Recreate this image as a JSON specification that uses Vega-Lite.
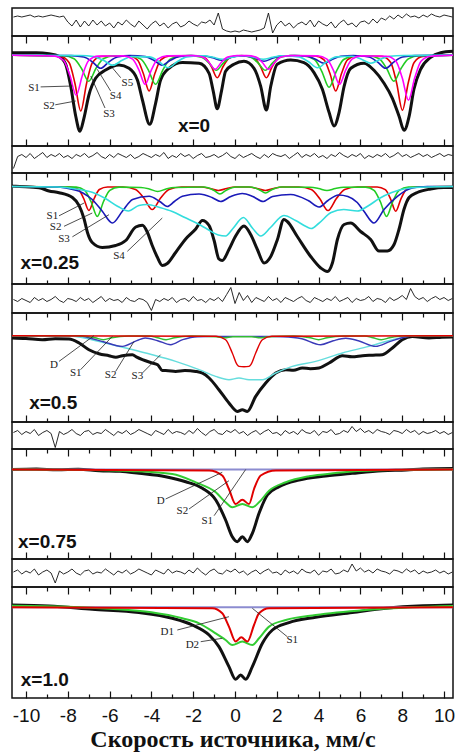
{
"$schema":"https://vega.github.io/schema/vega-lite/v6.json",
"padding":{"left":5,"top":7,"right":0,"bottom":0},
"background":"white",
"spacing":0,
"bounds":"flush",
"config":{"view":{"stroke":"#111","strokeWidth":1.5},"axis":{"domain":false,"grid":false,"tickColor":"#111","tickWidth":1.2}},
"resolve":{"scale":{"color":"independent"}},
"datasets":{
"res":[
{"v":-10.6,"a":5,"b":-9,"c":-1,"d":3,"e":1},{"v":-10.4,"a":6,"b":3,"c":-3,"d":5,"e":3},{"v":-10.2,"a":5,"b":5,"c":0,"d":1,"e":-1},{"v":-10.0,"a":6,"b":2,"c":-2,"d":4,"e":2},{"v":-9.8,"a":7,"b":6,"c":-4,"d":2,"e":0},{"v":-9.6,"a":5,"b":1,"c":1,"d":6,"e":4},{"v":-9.4,"a":6,"b":4,"c":-2,"d":0,"e":-2},{"v":-9.2,"a":5,"b":7,"c":0,"d":3,"e":1},{"v":-9.0,"a":6,"b":2,"c":-3,"d":5,"e":3},{"v":-8.8,"a":7,"b":5,"c":-1,"d":2,"e":0},
{"v":-8.6,"a":6,"b":3,"c":2,"d":-12,"e":-10},{"v":-8.4,"a":5,"b":6,"c":-2,"d":4,"e":2},{"v":-8.2,"a":6,"b":2,"c":-4,"d":1,"e":-1},{"v":-8.0,"a":0,"b":4,"c":0,"d":3,"e":1},{"v":-7.8,"a":-4,"b":1,"c":-1,"d":6,"e":4},{"v":-7.6,"a":2,"b":5,"c":-3,"d":2,"e":0},{"v":-7.4,"a":-5,"b":3,"c":1,"d":0,"e":-2},{"v":-7.2,"a":1,"b":6,"c":-2,"d":4,"e":2},{"v":-7.0,"a":-4,"b":2,"c":0,"d":5,"e":3},{"v":-6.8,"a":2,"b":4,"c":-4,"d":1,"e":-1},
{"v":-6.6,"a":-3,"b":7,"c":-1,"d":3,"e":1},{"v":-6.4,"a":1,"b":3,"c":2,"d":2,"e":0},{"v":-6.2,"a":-4,"b":1,"c":-3,"d":6,"e":4},{"v":-6.0,"a":-1,"b":5,"c":0,"d":3,"e":1},{"v":-5.8,"a":-6,"b":2,"c":-2,"d":0,"e":-2},{"v":-5.6,"a":0,"b":6,"c":-1,"d":4,"e":2},{"v":-5.4,"a":-3,"b":4,"c":-4,"d":2,"e":0},{"v":-5.2,"a":2,"b":2,"c":1,"d":5,"e":3},{"v":-5.0,"a":-2,"b":5,"c":-2,"d":1,"e":-1},{"v":-4.8,"a":-5,"b":1,"c":-3,"d":3,"e":1},
{"v":-4.6,"a":1,"b":3,"c":0,"d":6,"e":4},{"v":-4.4,"a":-3,"b":6,"c":-1,"d":4,"e":2},{"v":-4.2,"a":-7,"b":4,"c":-4,"d":2,"e":0},{"v":-4.0,"a":-2,"b":2,"c":-12,"d":0,"e":-2},{"v":-3.8,"a":1,"b":5,"c":-1,"d":5,"e":3},{"v":-3.6,"a":-4,"b":3,"c":-3,"d":3,"e":1},{"v":-3.4,"a":-1,"b":7,"c":0,"d":1,"e":-1},{"v":-3.2,"a":-6,"b":1,"c":-2,"d":6,"e":4},{"v":-3.0,"a":-2,"b":4,"c":1,"d":2,"e":0},{"v":-2.8,"a":0,"b":2,"c":-4,"d":4,"e":2},
{"v":-2.6,"a":-5,"b":6,"c":-1,"d":3,"e":1},{"v":-2.4,"a":-3,"b":3,"c":0,"d":1,"e":-1},{"v":-2.2,"a":1,"b":5,"c":-3,"d":5,"e":3},{"v":-2.0,"a":-2,"b":1,"c":2,"d":2,"e":0},{"v":-1.8,"a":-4,"b":4,"c":-2,"d":7,"e":5},{"v":-1.6,"a":0,"b":6,"c":-1,"d":3,"e":1},{"v":-1.4,"a":-1,"b":2,"c":-4,"d":0,"e":-2},{"v":-1.2,"a":2,"b":3,"c":0,"d":4,"e":2},{"v":-1.0,"a":-3,"b":5,"c":-2,"d":6,"e":4},{"v":-0.8,"a":9,"b":2,"c":1,"d":2,"e":0},
{"v":-0.6,"a":-7,"b":4,"c":-3,"d":1,"e":-1},{"v":-0.4,"a":-9,"b":7,"c":4,"d":5,"e":3},{"v":-0.2,"a":-10,"b":3,"c":11,"d":3,"e":1},{"v":0.0,"a":-9,"b":1,"c":-5,"d":6,"e":4},{"v":0.2,"a":-10,"b":5,"c":6,"d":2,"e":0},{"v":0.4,"a":-8,"b":2,"c":-2,"d":4,"e":2},{"v":0.6,"a":-9,"b":4,"c":3,"d":0,"e":-2},{"v":0.8,"a":-10,"b":6,"c":-4,"d":3,"e":1},{"v":1.0,"a":-9,"b":3,"c":1,"d":5,"e":3},{"v":1.2,"a":-8,"b":1,"c":-1,"d":1,"e":-1},
{"v":1.4,"a":-6,"b":5,"c":-3,"d":4,"e":2},{"v":1.6,"a":9,"b":2,"c":2,"d":6,"e":4},{"v":1.8,"a":-11,"b":6,"c":-2,"d":2,"e":0},{"v":2.0,"a":-3,"b":4,"c":0,"d":3,"e":1},{"v":2.2,"a":1,"b":3,"c":-4,"d":0,"e":-2},{"v":2.4,"a":-4,"b":5,"c":1,"d":5,"e":3},{"v":2.6,"a":-1,"b":1,"c":-1,"d":2,"e":0},{"v":2.8,"a":-6,"b":4,"c":-3,"d":4,"e":2},{"v":3.0,"a":-2,"b":7,"c":0,"d":1,"e":-1},{"v":3.2,"a":0,"b":2,"c":2,"d":6,"e":4},
{"v":3.4,"a":-3,"b":5,"c":-2,"d":3,"e":1},{"v":3.6,"a":2,"b":3,"c":-4,"d":2,"e":0},{"v":3.8,"a":-5,"b":6,"c":1,"d":5,"e":3},{"v":4.0,"a":1,"b":2,"c":-1,"d":0,"e":-2},{"v":4.2,"a":-2,"b":4,"c":-3,"d":4,"e":2},{"v":4.4,"a":-4,"b":1,"c":0,"d":3,"e":1},{"v":4.6,"a":0,"b":5,"c":-2,"d":6,"e":4},{"v":4.8,"a":-6,"b":3,"c":2,"d":1,"e":-1},{"v":5.0,"a":-1,"b":7,"c":-3,"d":2,"e":0},{"v":5.2,"a":2,"b":4,"c":-1,"d":5,"e":3},
{"v":5.4,"a":-3,"b":2,"c":1,"d":3,"e":1},{"v":5.6,"a":-1,"b":5,"c":-4,"d":9,"e":9},{"v":5.8,"a":-5,"b":3,"c":0,"d":4,"e":2},{"v":6.0,"a":0,"b":6,"c":-2,"d":7,"e":5},{"v":6.2,"a":1,"b":1,"c":-1,"d":3,"e":1},{"v":6.4,"a":-2,"b":4,"c":2,"d":5,"e":3},{"v":6.6,"a":3,"b":2,"c":-3,"d":2,"e":0},{"v":6.8,"a":-1,"b":5,"c":0,"d":6,"e":4},{"v":7.0,"a":4,"b":3,"c":-1,"d":4,"e":2},{"v":7.2,"a":2,"b":6,"c":-4,"d":3,"e":1},
{"v":7.4,"a":6,"b":2,"c":1,"d":1,"e":-1},{"v":7.6,"a":3,"b":4,"c":-2,"d":5,"e":3},{"v":7.8,"a":7,"b":7,"c":0,"d":4,"e":2},{"v":8.0,"a":4,"b":3,"c":3,"d":2,"e":0},{"v":8.2,"a":8,"b":5,"c":-1,"d":6,"e":4},{"v":8.4,"a":5,"b":2,"c":10,"d":3,"e":1},{"v":8.6,"a":6,"b":4,"c":2,"d":5,"e":3},{"v":8.8,"a":4,"b":6,"c":-1,"d":1,"e":-1},{"v":9.0,"a":7,"b":3,"c":1,"d":4,"e":2},{"v":9.2,"a":5,"b":5,"c":-3,"d":2,"e":0},
{"v":9.4,"a":8,"b":2,"c":0,"d":3,"e":1},{"v":9.6,"a":6,"b":4,"c":2,"d":5,"e":3},{"v":9.8,"a":5,"b":6,"c":-1,"d":2,"e":0},{"v":10.0,"a":7,"b":3,"c":1,"d":4,"e":2},{"v":10.2,"a":6,"b":5,"c":-2,"d":1,"e":-1},{"v":10.4,"a":5,"b":4,"c":0,"d":3,"e":1}
],
"p0":[
{"c":"E","v":-10.67,"y":2.5},{"c":"E","v":-9.5,"y":2.5},{"c":"E","v":-8.9,"y":1.5},{"c":"E","v":-8.42,"y":-1},{"c":"E","v":-8.1,"y":-9},{"c":"E","v":-7.86,"y":-31},{"c":"E","v":-7.62,"y":-61},{"c":"E","v":-7.42,"y":-76},{"c":"E","v":-7.23,"y":-63},{"c":"E","v":-6.99,"y":-39.7},{"c":"E","v":-6.67,"y":-23},{"c":"E","v":-6.19,"y":-14.7},{"c":"E","v":-5.55,"y":-9.7},{"c":"E","v":-5.07,"y":-13},{"c":"E","v":-4.67,"y":-24.7},{"c":"E","v":-4.43,"y":-44.7},{"c":"E","v":-4.08,"y":-69},{"c":"E","v":-3.8,"y":-48},{"c":"E","v":-3.56,"y":-24.7},{"c":"E","v":-3.16,"y":-13},{"c":"E","v":-2.52,"y":-7.3},{"c":"E","v":-1.72,"y":-8},{"c":"E","v":-1.24,"y":-18},{"c":"E","v":-1.05,"y":-35},{"c":"E","v":-0.85,"y":-53.4},{"c":"E","v":-0.64,"y":-35},{"c":"E","v":-0.45,"y":-16},{"c":"E","v":-0.05,"y":-9},{"c":"E","v":0.43,"y":-6},{"c":"E","v":0.91,"y":-13},{"c":"E","v":1.23,"y":-31},{"c":"E","v":1.5,"y":-54.7},{"c":"E","v":1.71,"y":-31},{"c":"E","v":2.02,"y":-9},{"c":"E","v":2.66,"y":-4.7},{"c":"E","v":3.3,"y":-7.3},{"c":"E","v":3.78,"y":-17.3},{"c":"E","v":4.18,"y":-34},{"c":"E","v":4.5,"y":-57},{"c":"E","v":4.74,"y":-70.7},{"c":"E","v":4.98,"y":-57},{"c":"E","v":5.22,"y":-31},{"c":"E","v":5.54,"y":-13},{"c":"E","v":6.17,"y":-8},{"c":"E","v":6.65,"y":-15},{"c":"E","v":7.13,"y":-28},{"c":"E","v":7.53,"y":-43},{"c":"E","v":7.85,"y":-61},{"c":"E","v":8.09,"y":-75},{"c":"E","v":8.33,"y":-61},{"c":"E","v":8.56,"y":-34},{"c":"E","v":8.88,"y":-14},{"c":"E","v":9.36,"y":-2},{"c":"E","v":9.84,"y":2.6},{"c":"E","v":10.43,"y":4},
{"c":"S2","v":-10.67,"y":0},{"c":"S2","v":-8.36,"y":-1.1},{"c":"S2","v":-7.94,"y":-7.2},{"c":"S2","v":-7.66,"y":-27.9},{"c":"S2","v":-7.38,"y":-55.7},{"c":"S2","v":-7.1,"y":-27.9},{"c":"S2","v":-6.82,"y":-7.2},{"c":"S2","v":-6.4,"y":-1.1},{"c":"S2","v":-5.09,"y":-0.7},{"c":"S2","v":-4.67,"y":-4.6},{"c":"S2","v":-4.39,"y":-17.9},{"c":"S2","v":-4.11,"y":-35.7},{"c":"S2","v":-3.83,"y":-17.9},{"c":"S2","v":-3.55,"y":-4.6},{"c":"S2","v":-3.13,"y":-0.7},{"c":"S2","v":-1.83,"y":-0.4},{"c":"S2","v":-1.41,"y":-2.9},{"c":"S2","v":-1.13,"y":-11.2},{"c":"S2","v":-0.85,"y":-22.4},{"c":"S2","v":-0.57,"y":-11.2},{"c":"S2","v":-0.29,"y":-2.9},{"c":"S2","v":0.13,"y":-0.4},{"c":"S2","v":0.52,"y":-0.4},{"c":"S2","v":0.94,"y":-2.9},{"c":"S2","v":1.22,"y":-11.2},{"c":"S2","v":1.5,"y":-22.4},{"c":"S2","v":1.78,"y":-11.2},{"c":"S2","v":2.06,"y":-2.9},{"c":"S2","v":2.48,"y":-0.4},{"c":"S2","v":3.84,"y":-0.7},{"c":"S2","v":4.26,"y":-4.6},{"c":"S2","v":4.54,"y":-17.9},{"c":"S2","v":4.82,"y":-35.7},{"c":"S2","v":5.1,"y":-17.9},{"c":"S2","v":5.38,"y":-4.6},{"c":"S2","v":5.8,"y":-0.7},{"c":"S2","v":7.03,"y":-1.1},{"c":"S2","v":7.45,"y":-7.2},{"c":"S2","v":7.73,"y":-27.5},{"c":"S2","v":8.01,"y":-55},{"c":"S2","v":8.29,"y":-27.5},{"c":"S2","v":8.57,"y":-7.2},{"c":"S2","v":8.99,"y":-1.1},{"c":"S2","v":10.43,"y":0},
{"c":"S3","v":-10.67,"y":0},{"c":"S3","v":-8.22,"y":-0.5},{"c":"S3","v":-7.7,"y":-3.4},{"c":"S3","v":-7.35,"y":-13},{"c":"S3","v":-7.0,"y":-26},{"c":"S3","v":-6.65,"y":-13},{"c":"S3","v":-6.3,"y":-3.4},{"c":"S3","v":-5.78,"y":-0.5},{"c":"S3","v":-5.02,"y":-0.6},{"c":"S3","v":-4.5,"y":-3.8},{"c":"S3","v":-4.15,"y":-14.5},{"c":"S3","v":-3.8,"y":-29},{"c":"S3","v":-3.45,"y":-14.5},{"c":"S3","v":-3.1,"y":-3.8},{"c":"S3","v":-2.58,"y":-0.6},{"c":"S3","v":-2.12,"y":-0.3},{"c":"S3","v":-1.6,"y":-2},{"c":"S3","v":-1.25,"y":-7.5},{"c":"S3","v":-0.9,"y":-15},{"c":"S3","v":-0.55,"y":-7.5},{"c":"S3","v":-0.2,"y":-2},{"c":"S3","v":0.32,"y":-0.3},{"c":"S3","v":0.75,"y":-2},{"c":"S3","v":1.1,"y":-7.5},{"c":"S3","v":1.45,"y":-15},{"c":"S3","v":1.8,"y":-7.5},{"c":"S3","v":2.15,"y":-2},{"c":"S3","v":2.67,"y":-0.3},{"c":"S3","v":3.28,"y":-0.6},{"c":"S3","v":3.8,"y":-4.2},{"c":"S3","v":4.15,"y":-16},{"c":"S3","v":4.5,"y":-32},{"c":"S3","v":4.85,"y":-16},{"c":"S3","v":5.2,"y":-4.2},{"c":"S3","v":5.72,"y":-0.6},{"c":"S3","v":6.38,"y":-0.5},{"c":"S3","v":6.9,"y":-3.4},{"c":"S3","v":7.25,"y":-13},{"c":"S3","v":7.6,"y":-26},{"c":"S3","v":7.95,"y":-13},{"c":"S3","v":8.3,"y":-3.4},{"c":"S3","v":8.82,"y":-0.5},{"c":"S3","v":10.43,"y":0},
{"c":"S4","v":-10.67,"y":0},{"c":"S4","v":-7.83,"y":-0.3},{"c":"S4","v":-7.23,"y":-1.7},{"c":"S4","v":-6.83,"y":-6.5},{"c":"S4","v":-6.43,"y":-13},{"c":"S4","v":-6.03,"y":-6.5},{"c":"S4","v":-5.63,"y":-1.7},{"c":"S4","v":-5.03,"y":-0.3},{"c":"S4","v":-4.29,"y":-1.3},{"c":"S4","v":-3.89,"y":-5},{"c":"S4","v":-3.49,"y":-10},{"c":"S4","v":-3.09,"y":-5},{"c":"S4","v":-2.69,"y":-1.3},{"c":"S4","v":-2.09,"y":-0.2},{"c":"S4","v":-1.45,"y":-0.7},{"c":"S4","v":-1.05,"y":-2.5},{"c":"S4","v":-0.65,"y":-5},{"c":"S4","v":-0.25,"y":-2.5},{"c":"S4","v":0.15,"y":-0.7},{"c":"S4","v":0.59,"y":-0.8},{"c":"S4","v":0.99,"y":-3},{"c":"S4","v":1.39,"y":-6},{"c":"S4","v":1.79,"y":-3},{"c":"S4","v":2.19,"y":-0.8},{"c":"S4","v":2.86,"y":-0.2},{"c":"S4","v":3.46,"y":-1},{"c":"S4","v":3.86,"y":-4},{"c":"S4","v":4.26,"y":-8},{"c":"S4","v":4.66,"y":-4},{"c":"S4","v":5.06,"y":-1},{"c":"S4","v":5.66,"y":-0.2},{"c":"S4","v":6.41,"y":-1.7},{"c":"S4","v":6.81,"y":-6.5},{"c":"S4","v":7.21,"y":-13},{"c":"S4","v":7.61,"y":-6.5},{"c":"S4","v":8.01,"y":-1.7},{"c":"S4","v":8.61,"y":-0.3},{"c":"S4","v":10.43,"y":0},
{"c":"S5","v":-10.67,"y":0},{"c":"S5","v":-7.42,"y":-0.2},{"c":"S5","v":-6.75,"y":-1.3},{"c":"S5","v":-6.3,"y":-5},{"c":"S5","v":-5.85,"y":-10},{"c":"S5","v":-5.4,"y":-5},{"c":"S5","v":-4.95,"y":-1.3},{"c":"S5","v":-4.1,"y":-1.6},{"c":"S5","v":-3.65,"y":-6.2},{"c":"S5","v":-3.2,"y":-12.5},{"c":"S5","v":-2.75,"y":-6.2},{"c":"S5","v":-2.3,"y":-1.6},{"c":"S5","v":-1.5,"y":-0.5},{"c":"S5","v":-1.05,"y":-2},{"c":"S5","v":-0.6,"y":-4},{"c":"S5","v":-0.15,"y":-2},{"c":"S5","v":0.45,"y":-0.5},{"c":"S5","v":0.9,"y":-2},{"c":"S5","v":1.35,"y":-4},{"c":"S5","v":1.8,"y":-2},{"c":"S5","v":2.25,"y":-0.5},{"c":"S5","v":3.05,"y":-1.6},{"c":"S5","v":3.5,"y":-6.2},{"c":"S5","v":3.95,"y":-12.5},{"c":"S5","v":4.4,"y":-6.2},{"c":"S5","v":4.85,"y":-1.6},{"c":"S5","v":5.6,"y":-1},{"c":"S5","v":6.05,"y":-4},{"c":"S5","v":6.5,"y":-8},{"c":"S5","v":6.95,"y":-4},{"c":"S5","v":7.4,"y":-1},{"c":"S5","v":8.07,"y":-0.2},{"c":"S5","v":10.43,"y":0},
{"c":"S1","v":-10.67,"y":0},{"c":"S1","v":-8.65,"y":-0.8},{"c":"S1","v":-8.2,"y":-5.2},{"c":"S1","v":-7.9,"y":-20},{"c":"S1","v":-7.6,"y":-40},{"c":"S1","v":-7.3,"y":-20},{"c":"S1","v":-7.0,"y":-5.2},{"c":"S1","v":-6.55,"y":-0.8},{"c":"S1","v":-5.35,"y":-0.6},{"c":"S1","v":-4.9,"y":-3.8},{"c":"S1","v":-4.6,"y":-14.5},{"c":"S1","v":-4.3,"y":-29},{"c":"S1","v":-4.0,"y":-14.5},{"c":"S1","v":-3.7,"y":-3.8},{"c":"S1","v":-3.25,"y":-0.6},{"c":"S1","v":-2.0,"y":-0.3},{"c":"S1","v":-1.55,"y":-1.8},{"c":"S1","v":-1.25,"y":-7},{"c":"S1","v":-0.95,"y":-14},{"c":"S1","v":-0.65,"y":-7},{"c":"S1","v":-0.35,"y":-1.8},{"c":"S1","v":0.1,"y":-0.3},{"c":"S1","v":0.55,"y":-0.3},{"c":"S1","v":1.0,"y":-1.8},{"c":"S1","v":1.3,"y":-7},{"c":"S1","v":1.6,"y":-14},{"c":"S1","v":1.9,"y":-7},{"c":"S1","v":2.2,"y":-1.8},{"c":"S1","v":2.65,"y":-0.3},{"c":"S1","v":3.95,"y":-0.6},{"c":"S1","v":4.4,"y":-3.8},{"c":"S1","v":4.7,"y":-14.5},{"c":"S1","v":5.0,"y":-29},{"c":"S1","v":5.3,"y":-14.5},{"c":"S1","v":5.6,"y":-3.8},{"c":"S1","v":6.05,"y":-0.6},{"c":"S1","v":7.25,"y":-0.9},{"c":"S1","v":7.7,"y":-5.9},{"c":"S1","v":8.0,"y":-22.5},{"c":"S1","v":8.3,"y":-45},{"c":"S1","v":8.6,"y":-22.5},{"c":"S1","v":8.9,"y":-5.9},{"c":"S1","v":9.35,"y":-0.9},{"c":"S1","v":10.43,"y":0}
],
"l0":[
{"t":"S1","v":-9.62,"y":-32.4,"x1":-9.3,"y1":-31.6,"x2":-7.78,"y2":-30.7},
{"t":"S2","v":-8.9,"y":-50.7,"x1":-8.6,"y1":-49.5,"x2":-7.62,"y2":-45.7},
{"t":"S3","v":-6.03,"y":-59,"x1":-6.22,"y1":-52.7,"x2":-6.9,"y2":-20.7},
{"t":"S4","v":-5.71,"y":-40.7,"x1":-5.95,"y1":-35.7,"x2":-6.59,"y2":-14},
{"t":"S5","v":-5.15,"y":-27.4,"x1":-5.47,"y1":-22.4,"x2":-5.87,"y2":-12.4}
],
"p1":[
{"c":"E","v":-10.67,"y":0.5},{"c":"E","v":-10.5,"y":0.2},{"c":"E","v":-9.38,"y":-1.2},{"c":"E","v":-8.9,"y":-4.5},{"c":"E","v":-8.42,"y":-6.2},{"c":"E","v":-7.78,"y":-11},{"c":"E","v":-7.46,"y":-19.2},{"c":"E","v":-7.22,"y":-32.5},{"c":"E","v":-7.06,"y":-46},{"c":"E","v":-6.83,"y":-56},{"c":"E","v":-6.35,"y":-61},{"c":"E","v":-5.71,"y":-59},{"c":"E","v":-5.23,"y":-54},{"c":"E","v":-4.75,"y":-40.5},{"c":"E","v":-4.43,"y":-38.8},{"c":"E","v":-4.2,"y":-45.5},{"c":"E","v":-3.96,"y":-59},{"c":"E","v":-3.72,"y":-70.5},{"c":"E","v":-3.48,"y":-79},{"c":"E","v":-3.24,"y":-77},{"c":"E","v":-2.84,"y":-66},{"c":"E","v":-2.36,"y":-52.5},{"c":"E","v":-1.88,"y":-42.5},{"c":"E","v":-1.56,"y":-34},{"c":"E","v":-1.24,"y":-39},{"c":"E","v":-1.0,"y":-54},{"c":"E","v":-0.77,"y":-72.5},{"c":"E","v":-0.61,"y":-74},{"c":"E","v":-0.29,"y":-63},{"c":"E","v":0.03,"y":-49.5},{"c":"E","v":0.43,"y":-39.5},{"c":"E","v":0.75,"y":-48},{"c":"E","v":1.07,"y":-63},{"c":"E","v":1.39,"y":-76.5},{"c":"E","v":1.71,"y":-70},{"c":"E","v":2.03,"y":-53},{"c":"E","v":2.34,"y":-33},{"c":"E","v":2.5,"y":-35},{"c":"E","v":2.98,"y":-50},{"c":"E","v":3.62,"y":-70},{"c":"E","v":4.1,"y":-81.5},{"c":"E","v":4.42,"y":-85},{"c":"E","v":4.66,"y":-76.5},{"c":"E","v":4.9,"y":-53},{"c":"E","v":5.22,"y":-38},{"c":"E","v":5.53,"y":-36.5},{"c":"E","v":6.01,"y":-45},{"c":"E","v":6.49,"y":-53},{"c":"E","v":6.89,"y":-64.5},{"c":"E","v":7.29,"y":-64.5},{"c":"E","v":7.61,"y":-58},{"c":"E","v":7.85,"y":-42.5},{"c":"E","v":8.09,"y":-22.5},{"c":"E","v":8.33,"y":-11},{"c":"E","v":8.72,"y":-6},{"c":"E","v":9.36,"y":-2.5},{"c":"E","v":10.0,"y":-1},{"c":"E","v":10.43,"y":-1},
{"c":"S1","v":-10.67,"y":0},{"c":"S1","v":-7.9,"y":-0.5},{"c":"S1","v":-7.49,"y":-3},{"c":"S1","v":-7.24,"y":-12},{"c":"S1","v":-6.99,"y":-24},{"c":"S1","v":-6.74,"y":-12},{"c":"S1","v":-6.49,"y":-3},{"c":"S1","v":-6.1,"y":-0.5},{"c":"S1","v":-5.36,"y":-0.5},{"c":"S1","v":-4.76,"y":-3},{"c":"S1","v":-4.36,"y":-11.5},{"c":"S1","v":-3.96,"y":-23},{"c":"S1","v":-3.56,"y":-11.5},{"c":"S1","v":-3.16,"y":-3},{"c":"S1","v":-2.56,"y":-0.5},{"c":"S1","v":-1.6,"y":-0.5},{"c":"S1","v":-1.2,"y":-2},{"c":"S1","v":-0.8,"y":-4},{"c":"S1","v":-0.4,"y":-2},{"c":"S1","v":0,"y":-0.5},{"c":"S1","v":0.65,"y":-0.5},{"c":"S1","v":1.05,"y":-2},{"c":"S1","v":1.45,"y":-4},{"c":"S1","v":1.85,"y":-2},{"c":"S1","v":2.25,"y":-0.5},{"c":"S1","v":3.05,"y":-0.5},{"c":"S1","v":3.65,"y":-3},{"c":"S1","v":4.05,"y":-12},{"c":"S1","v":4.45,"y":-24},{"c":"S1","v":4.85,"y":-12},{"c":"S1","v":5.25,"y":-3},{"c":"S1","v":5.85,"y":-0.5},{"c":"S1","v":6.8,"y":-0.5},{"c":"S1","v":7.19,"y":-3.2},{"c":"S1","v":7.44,"y":-12.3},{"c":"S1","v":7.69,"y":-24.7},{"c":"S1","v":7.94,"y":-12.3},{"c":"S1","v":8.19,"y":-3.2},{"c":"S1","v":8.6,"y":-0.5},{"c":"S1","v":10.43,"y":0},
{"c":"S2","v":-10.67,"y":0},{"c":"S2","v":-7.6,"y":-0.6},{"c":"S2","v":-7.19,"y":-3.9},{"c":"S2","v":-6.89,"y":-15},{"c":"S2","v":-6.59,"y":-30},{"c":"S2","v":-6.29,"y":-15},{"c":"S2","v":-5.99,"y":-3.9},{"c":"S2","v":-5.55,"y":-0.6},{"c":"S2","v":-4.5,"y":-1},{"c":"S2","v":-4.1,"y":-2.5},{"c":"S2","v":-3.7,"y":-5},{"c":"S2","v":-3.3,"y":-2.5},{"c":"S2","v":-2.9,"y":-1},{"c":"S2","v":-1.5,"y":-0.5},{"c":"S2","v":-1.02,"y":-3.7},{"c":"S2","v":-0.72,"y":-7.5},{"c":"S2","v":-0.42,"y":-3.7},{"c":"S2","v":0.05,"y":-0.5},{"c":"S2","v":0.7,"y":-0.5},{"c":"S2","v":1.16,"y":-3.2},{"c":"S2","v":1.46,"y":-6.5},{"c":"S2","v":1.76,"y":-3.2},{"c":"S2","v":2.2,"y":-0.5},{"c":"S2","v":3.6,"y":-0.8},{"c":"S2","v":4.0,"y":-2},{"c":"S2","v":4.4,"y":-4},{"c":"S2","v":4.8,"y":-2},{"c":"S2","v":5.2,"y":-0.8},{"c":"S2","v":6.25,"y":-0.6},{"c":"S2","v":6.65,"y":-3.9},{"c":"S2","v":6.95,"y":-15},{"c":"S2","v":7.25,"y":-30},{"c":"S2","v":7.55,"y":-15},{"c":"S2","v":7.85,"y":-3.9},{"c":"S2","v":8.3,"y":-0.6},{"c":"S2","v":10.43,"y":0},
{"c":"S3","v":-10.67,"y":0},{"c":"S3","v":-8.6,"y":-0.5},{"c":"S3","v":-8.1,"y":-1.5},{"c":"S3","v":-7.3,"y":-6.2},{"c":"S3","v":-6.83,"y":-13},{"c":"S3","v":-6.35,"y":-24.8},{"c":"S3","v":-5.87,"y":-36.5},{"c":"S3","v":-5.39,"y":-24.8},{"c":"S3","v":-4.9,"y":-13},{"c":"S3","v":-4.11,"y":-9.8},{"c":"S3","v":-3.6,"y":-15},{"c":"S3","v":-3.24,"y":-20},{"c":"S3","v":-2.9,"y":-15},{"c":"S3","v":-2.52,"y":-9.8},{"c":"S3","v":-1.72,"y":-7.5},{"c":"S3","v":-1.1,"y":-11},{"c":"S3","v":-0.69,"y":-15},{"c":"S3","v":-0.2,"y":-10},{"c":"S3","v":0.35,"y":-7},{"c":"S3","v":0.85,"y":-10},{"c":"S3","v":1.35,"y":-15},{"c":"S3","v":1.8,"y":-10},{"c":"S3","v":2.66,"y":-8},{"c":"S3","v":3.5,"y":-14},{"c":"S3","v":4.02,"y":-20.5},{"c":"S3","v":4.45,"y":-14},{"c":"S3","v":4.95,"y":-8.5},{"c":"S3","v":5.4,"y":-10},{"c":"S3","v":5.85,"y":-16},{"c":"S3","v":6.17,"y":-24.8},{"c":"S3","v":6.65,"y":-36.5},{"c":"S3","v":7.13,"y":-23},{"c":"S3","v":7.77,"y":-9.8},{"c":"S3","v":8.48,"y":-1.5},{"c":"S3","v":9.2,"y":0},{"c":"S3","v":10.43,"y":0},
{"c":"S4","v":-10.67,"y":0},{"c":"S4","v":-8.5,"y":-0.5},{"c":"S4","v":-7.6,"y":-2.5},{"c":"S4","v":-6.8,"y":-6},{"c":"S4","v":-6.2,"y":-12},{"c":"S4","v":-5.6,"y":-20},{"c":"S4","v":-5.1,"y":-24.5},{"c":"S4","v":-4.6,"y":-19},{"c":"S4","v":-4.2,"y":-18},{"c":"S4","v":-3.6,"y":-21},{"c":"S4","v":-3.0,"y":-25},{"c":"S4","v":-2.4,"y":-31},{"c":"S4","v":-1.8,"y":-37},{"c":"S4","v":-1.3,"y":-43},{"c":"S4","v":-0.8,"y":-48.5},{"c":"S4","v":-0.45,"y":-49.5},{"c":"S4","v":-0.1,"y":-42},{"c":"S4","v":0.4,"y":-31},{"c":"S4","v":0.85,"y":-42},{"c":"S4","v":1.23,"y":-49.5},{"c":"S4","v":1.7,"y":-41},{"c":"S4","v":2.34,"y":-29},{"c":"S4","v":2.9,"y":-34},{"c":"S4","v":3.4,"y":-40},{"c":"S4","v":3.65,"y":-42},{"c":"S4","v":4.0,"y":-37},{"c":"S4","v":4.6,"y":-26},{"c":"S4","v":5.2,"y":-23},{"c":"S4","v":5.85,"y":-24.5},{"c":"S4","v":6.4,"y":-19},{"c":"S4","v":6.9,"y":-12},{"c":"S4","v":7.5,"y":-6},{"c":"S4","v":8.2,"y":-2},{"c":"S4","v":9.2,"y":-0.5},{"c":"S4","v":10.43,"y":0}
],
"l1":[
{"t":"S1","v":-8.74,"y":-29.3,"x1":-8.42,"y1":-29.3,"x2":-7.22,"y2":-16.5},
{"t":"S2","v":-8.58,"y":-40.8,"x1":-8.18,"y1":-39.8,"x2":-6.83,"y2":-26.5},
{"t":"S3","v":-8.18,"y":-52,"x1":-7.78,"y1":-50.3,"x2":-6.03,"y2":-28.2},
{"t":"S4","v":-5.55,"y":-69.8,"x1":-5.15,"y1":-64.8,"x2":-3.48,"y2":-31.5}
],
"p2":[
{"c":"E","v":-10.67,"y":-2.3},{"c":"E","v":-10,"y":-2.8},{"c":"E","v":-9.22,"y":-4},{"c":"E","v":-8.6,"y":-3},{"c":"E","v":-7.94,"y":-3.3},{"c":"E","v":-7.46,"y":-7.3},{"c":"E","v":-6.99,"y":-14},{"c":"E","v":-6.51,"y":-18},{"c":"E","v":-6.03,"y":-20},{"c":"E","v":-5.7,"y":-21.5},{"c":"E","v":-5.39,"y":-20},{"c":"E","v":-4.91,"y":-19},{"c":"E","v":-4.7,"y":-21.5},{"c":"E","v":-4.43,"y":-24},{"c":"E","v":-3.96,"y":-27.3},{"c":"E","v":-3.7,"y":-29},{"c":"E","v":-3.48,"y":-34.7},{"c":"E","v":-3.2,"y":-35},{"c":"E","v":-2.84,"y":-35.7},{"c":"E","v":-2.4,"y":-34.8},{"c":"E","v":-1.88,"y":-35.7},{"c":"E","v":-1.55,"y":-37.5},{"c":"E","v":-1.24,"y":-42.3},{"c":"E","v":-0.77,"y":-54},{"c":"E","v":-0.29,"y":-67.3},{"c":"E","v":0.11,"y":-75.7},{"c":"E","v":0.35,"y":-74},{"c":"E","v":0.59,"y":-75.7},{"c":"E","v":0.99,"y":-60.7},{"c":"E","v":1.47,"y":-47.3},{"c":"E","v":1.95,"y":-37.3},{"c":"E","v":2.43,"y":-34},{"c":"E","v":2.8,"y":-34.5},{"c":"E","v":3.22,"y":-32.3},{"c":"E","v":3.6,"y":-33},{"c":"E","v":4.02,"y":-32.3},{"c":"E","v":4.5,"y":-27.3},{"c":"E","v":5.14,"y":-20},{"c":"E","v":5.6,"y":-21},{"c":"E","v":6.1,"y":-20},{"c":"E","v":6.6,"y":-19.5},{"c":"E","v":7.05,"y":-19},{"c":"E","v":7.53,"y":-12.3},{"c":"E","v":8.0,"y":-4},{"c":"E","v":8.48,"y":-0.7},{"c":"E","v":9.28,"y":-2.3},{"c":"E","v":9.9,"y":-1.5},{"c":"E","v":10.43,"y":-1.3},
{"c":"S3","v":-10.67,"y":0},{"c":"S3","v":-8.0,"y":0},{"c":"S3","v":-7.46,"y":-1.3},{"c":"S3","v":-6.35,"y":-6.7},{"c":"S3","v":-5.23,"y":-12.3},{"c":"S3","v":-3.96,"y":-19},{"c":"S3","v":-2.84,"y":-25.7},{"c":"S3","v":-1.72,"y":-34},{"c":"S3","v":-0.93,"y":-40.7},{"c":"S3","v":-0.29,"y":-44},{"c":"S3","v":0.19,"y":-42.3},{"c":"S3","v":0.67,"y":-44},{"c":"S3","v":1.31,"y":-44},{"c":"S3","v":1.95,"y":-37.3},{"c":"S3","v":2.74,"y":-30.7},{"c":"S3","v":3.86,"y":-25.7},{"c":"S3","v":5.14,"y":-17.3},{"c":"S3","v":6.41,"y":-10.7},{"c":"S3","v":7.53,"y":-4},{"c":"S3","v":8.33,"y":-0.7},{"c":"S3","v":9,"y":0},{"c":"S3","v":10.43,"y":0},
{"c":"S2","v":-10.67,"y":0},{"c":"S2","v":-7.5,"y":0},{"c":"S2","v":-6.99,"y":-2},{"c":"S2","v":-6.3,"y":-6},{"c":"S2","v":-5.39,"y":-10.7},{"c":"S2","v":-4.7,"y":-5},{"c":"S2","v":-4.3,"y":-2.3},{"c":"S2","v":-3.7,"y":-5},{"c":"S2","v":-3.08,"y":-9},{"c":"S2","v":-2.5,"y":-4},{"c":"S2","v":-1.8,"y":-1},{"c":"S2","v":-1.0,"y":-0.7},{"c":"S2","v":1.5,"y":-0.7},{"c":"S2","v":2.3,"y":-1},{"c":"S2","v":3.2,"y":-3},{"c":"S2","v":4.1,"y":-9},{"c":"S2","v":4.7,"y":-5},{"c":"S2","v":5.3,"y":-2.5},{"c":"S2","v":5.9,"y":-5},{"c":"S2","v":6.73,"y":-10.7},{"c":"S2","v":7.4,"y":-6},{"c":"S2","v":8.0,"y":-2},{"c":"S2","v":8.6,"y":0},{"c":"S2","v":10.43,"y":0},
{"c":"S1","v":-10.67,"y":0},{"c":"S1","v":-7.5,"y":0},{"c":"S1","v":-6.7,"y":-2},{"c":"S1","v":-6.3,"y":-4},{"c":"S1","v":-5.9,"y":-2},{"c":"S1","v":-5.1,"y":-0.3},{"c":"S1","v":-4.1,"y":-0.3},{"c":"S1","v":-3.7,"y":-2},{"c":"S1","v":-3.3,"y":-4},{"c":"S1","v":-2.9,"y":-2},{"c":"S1","v":-2.1,"y":-0.3},{"c":"S1","v":-0.9,"y":-1},{"c":"S1","v":-0.5,"y":-2},{"c":"S1","v":-0.1,"y":-1},{"c":"S1","v":0.8,"y":-1},{"c":"S1","v":1.2,"y":-2},{"c":"S1","v":1.6,"y":-1},{"c":"S1","v":2.8,"y":-0.3},{"c":"S1","v":3.6,"y":-2},{"c":"S1","v":4.0,"y":-4},{"c":"S1","v":4.4,"y":-2},{"c":"S1","v":5.2,"y":-0.3},{"c":"S1","v":6.2,"y":-0.3},{"c":"S1","v":6.6,"y":-2},{"c":"S1","v":7.0,"y":-4},{"c":"S1","v":7.4,"y":-2},{"c":"S1","v":8.2,"y":0},{"c":"S1","v":10.43,"y":0},
{"c":"D","v":-10.67,"y":0},{"c":"D","v":-0.9,"y":-0.5},{"c":"D","v":-0.45,"y":-4},{"c":"D","v":-0.13,"y":-17.3},{"c":"D","v":0.1,"y":-29},{"c":"D","v":0.19,"y":-30.7},{"c":"D","v":0.43,"y":-31},{"c":"D","v":0.67,"y":-30.7},{"c":"D","v":0.76,"y":-29},{"c":"D","v":0.99,"y":-17.3},{"c":"D","v":1.31,"y":-4},{"c":"D","v":1.76,"y":-0.5},{"c":"D","v":10.43,"y":0}
],
"l2":[
{"t":"D","v":-8.66,"y":-29,"x1":-8.42,"y1":-25.7,"x2":-6.75,"y2":0},
{"t":"S1","v":-7.62,"y":-37.3,"x1":-7.39,"y1":-34,"x2":-5.87,"y2":-0.7},
{"t":"S2","v":-5.95,"y":-39,"x1":-5.71,"y1":-35.7,"x2":-4.83,"y2":-5.7},
{"t":"S3","v":-4.67,"y":-40.7,"x1":-4.43,"y1":-37.3,"x2":-3.56,"y2":-19}
],
"p3":[
{"c":"E","v":-10.67,"y":0},{"c":"E","v":-9.5,"y":0.5},{"c":"E","v":-8.5,"y":-0.3},{"c":"E","v":-7.5,"y":0.3},{"c":"E","v":-6.5,"y":-1.2},{"c":"E","v":-5.5,"y":-1.8},{"c":"E","v":-4.59,"y":-3.8},{"c":"E","v":-3.32,"y":-7.2},{"c":"E","v":-2.36,"y":-12.2},{"c":"E","v":-1.56,"y":-18.8},{"c":"E","v":-0.92,"y":-30.5},{"c":"E","v":-0.45,"y":-50.5},{"c":"E","v":-0.13,"y":-67.2},{"c":"E","v":0.11,"y":-72.2},{"c":"E","v":0.35,"y":-67.2},{"c":"E","v":0.59,"y":-72.2},{"c":"E","v":0.83,"y":-63.8},{"c":"E","v":1.15,"y":-43.8},{"c":"E","v":1.55,"y":-25.5},{"c":"E","v":2.11,"y":-17.2},{"c":"E","v":3.06,"y":-10.5},{"c":"E","v":4.34,"y":-6.5},{"c":"E","v":5.61,"y":-3.8},{"c":"E","v":7.05,"y":-1.2},{"c":"E","v":8.2,"y":-0.5},{"c":"E","v":9,"y":0.5},{"c":"E","v":10.43,"y":1},
{"c":"S1","v":-10.67,"y":0},{"c":"S1","v":10.43,"y":0},
{"c":"S2","v":-10.67,"y":0},{"c":"S2","v":-7,"y":-0.5},{"c":"S2","v":-5,"y":-1.5},{"c":"S2","v":-3.0,"y":-4.5},{"c":"S2","v":-1.88,"y":-12.8},{"c":"S2","v":-0.92,"y":-22.8},{"c":"S2","v":-0.45,"y":-32.8},{"c":"S2","v":-0.13,"y":-37.8},{"c":"S2","v":0.35,"y":-34.5},{"c":"S2","v":0.83,"y":-37.8},{"c":"S2","v":1.15,"y":-32.8},{"c":"S2","v":1.63,"y":-21.2},{"c":"S2","v":2.43,"y":-12.8},{"c":"S2","v":3.54,"y":-6.8},{"c":"S2","v":4.82,"y":-3.5},{"c":"S2","v":5.45,"y":-2.2},{"c":"S2","v":7.5,"y":-0.5},{"c":"S2","v":10.43,"y":0},
{"c":"D","v":-10.67,"y":0},{"c":"D","v":-1.24,"y":-1},{"c":"D","v":-0.61,"y":-6},{"c":"D","v":-0.29,"y":-19.5},{"c":"D","v":0.03,"y":-34.5},{"c":"D","v":0.35,"y":-30.2},{"c":"D","v":0.67,"y":-34.5},{"c":"D","v":0.91,"y":-19.5},{"c":"D","v":1.23,"y":-6},{"c":"D","v":1.95,"y":-1},{"c":"D","v":10.43,"y":0}
],
"l3":[
{"t":"D","v":-3.56,"y":-31.2,"x1":-3.32,"y1":-29.5,"x2":-0.61,"y2":-2.8},
{"t":"S2","v":-2.52,"y":-41.2,"x1":-2.2,"y1":-39.5,"x2":-0.29,"y2":-11.2},
{"t":"S1","v":-1.33,"y":-51.2,"x1":-1.0,"y1":-46.2,"x2":0.51,"y2":0}
],
"p4":[
{"c":"E","v":-10.67,"y":2.3},{"c":"E","v":-8.9,"y":1.3},{"c":"E","v":-6.83,"y":-2},{"c":"E","v":-4.59,"y":-5.3},{"c":"E","v":-3.0,"y":-11},{"c":"E","v":-2.04,"y":-17.7},{"c":"E","v":-1.24,"y":-27.7},{"c":"E","v":-0.77,"y":-39.3},{"c":"E","v":-0.29,"y":-59.3},{"c":"E","v":0.03,"y":-72},{"c":"E","v":0.27,"y":-67.7},{"c":"E","v":0.51,"y":-72},{"c":"E","v":0.83,"y":-59.3},{"c":"E","v":1.31,"y":-36},{"c":"E","v":1.79,"y":-22.7},{"c":"E","v":2.58,"y":-15.3},{"c":"E","v":3.86,"y":-10},{"c":"E","v":5.61,"y":-5.3},{"c":"E","v":7.21,"y":-1},{"c":"E","v":9,"y":1.5},{"c":"E","v":10.43,"y":2.3},
{"c":"S1","v":-10.67,"y":0},{"c":"S1","v":10.43,"y":0},
{"c":"D2","v":-10.67,"y":1.5},{"c":"D2","v":-8,"y":0.5},{"c":"D2","v":-6,"y":-1.5},{"c":"D2","v":-4,"y":-5},{"c":"D2","v":-2.52,"y":-11},{"c":"D2","v":-1.72,"y":-16},{"c":"D2","v":-0.93,"y":-26},{"c":"D2","v":-0.45,"y":-32.7},{"c":"D2","v":-0.13,"y":-37.7},{"c":"D2","v":0.35,"y":-34.3},{"c":"D2","v":0.83,"y":-37.7},{"c":"D2","v":1.15,"y":-31},{"c":"D2","v":1.63,"y":-19.3},{"c":"D2","v":2.43,"y":-12.7},{"c":"D2","v":3.86,"y":-7.7},{"c":"D2","v":6.25,"y":-2.7},{"c":"D2","v":8.5,"y":0},{"c":"D2","v":10.43,"y":1.3},
{"c":"D1","v":-10.67,"y":0},{"c":"D1","v":-1.09,"y":-1},{"c":"D1","v":-0.61,"y":-6},{"c":"D1","v":-0.29,"y":-19.3},{"c":"D1","v":0.03,"y":-34.3},{"c":"D1","v":0.3,"y":-30},{"c":"D1","v":0.59,"y":-34.3},{"c":"D1","v":0.91,"y":-17.7},{"c":"D1","v":1.15,"y":-6},{"c":"D1","v":1.63,"y":-1},{"c":"D1","v":10.43,"y":0}
],
"l4":[
{"t":"D1","v":-3.24,"y":-24.4,"x1":-2.76,"y1":-22.7,"x2":-0.29,"y2":-9.4},
{"t":"D2","v":-2.04,"y":-37.7,"x1":-1.64,"y1":-34.4,"x2":-0.61,"y2":-31},
{"t":"S1","v":2.74,"y":-32.7,"x1":2.5,"y1":-29.4,"x2":0.83,"y2":-1}
]
},
"vconcat":[
{"width":441,"height":28,"data":{"name":"res"},"mark":{"type":"line","color":"#111","strokeWidth":0.9},"encoding":{"x":{"field":"v","type":"quantitative","scale":{"domain":[-10.67,10.43],"nice":false},"axis":null},"y":{"field":"a","type":"quantitative","scale":{"domain":[-14,14],"nice":false},"axis":null}}},
{"width":441,"height":110,"data":{"name":"p0"},"resolve":{"axis":{"x":"independent"}},"layer":[
{"transform":[{"filter":"datum.c==='E'"}],"mark":{"type":"line","color":"#111","strokeWidth":3,"interpolate":"monotone"},"encoding":{"x":{"field":"v","type":"quantitative","scale":{"domain":[-10.67,10.43],"nice":false,"zero":false},"axis":{"orient":"bottom","values":[-10,-9,-8,-7,-6,-5,-4,-3,-2,-1,0,1,2,3,4,5,6,7,8,9,10],"tickSize":{"condition":{"test":"datum.value % 2 === 0","value":-7},"value":-4},"labels":false,"title":null}},"y":{"field":"y","type":"quantitative","scale":{"domain":[-90.7,19.3],"nice":false,"zero":false},"axis":null}}},
{"transform":[{"filter":"datum.c!=='E'"}],"mark":{"type":"line","strokeWidth":1.6,"interpolate":"monotone"},"encoding":{"x":{"field":"v","type":"quantitative","scale":{"domain":[-10.67,10.43],"nice":false,"zero":false},"axis":{"orient":"top","values":[-10,-9,-8,-7,-6,-5,-4,-3,-2,-1,0,1,2,3,4,5,6,7,8,9,10],"tickSize":{"condition":{"test":"datum.value % 2 === 0","value":-7},"value":-4},"labels":false,"title":null}},"y":{"field":"y","type":"quantitative","scale":{"domain":[-90.7,19.3],"nice":false,"zero":false},"axis":null},"color":{"field":"c","type":"nominal","scale":{"domain":["S2","S3","S4","S5","S1"],"range":["#e00000","#22cc22","#1a1ab8","#33dddd","#ff00ff"]},"legend":null}}},
{"data":{"name":"l0"},"mark":{"type":"rule","color":"#222","strokeWidth":0.8},"encoding":{"x":{"field":"x1","type":"quantitative","axis":null},"y":{"field":"y1","type":"quantitative","axis":null},"x2":{"field":"x2"},"y2":{"field":"y2"}}},
{"data":{"name":"l0"},"mark":{"type":"text","font":"Liberation Serif","fontSize":11,"color":"#222"},"encoding":{"x":{"field":"v","type":"quantitative","axis":null},"y":{"field":"y","type":"quantitative","axis":null},"text":{"field":"t"}}},
{"data":{"values":[{"t":"x=0","v":-1.96,"y":-70.7}]},"mark":{"type":"text","font":"Liberation Sans","fontSize":19,"fontWeight":"bold","color":"#111"},"encoding":{"x":{"field":"v","type":"quantitative","axis":null},"y":{"field":"y","type":"quantitative","axis":null},"text":{"field":"t"}}}
]},
{"width":441,"height":27,"data":{"name":"res"},"mark":{"type":"line","color":"#111","strokeWidth":0.9},"encoding":{"x":{"field":"v","type":"quantitative","scale":{"domain":[-10.67,10.43],"nice":false},"axis":null},"y":{"field":"b","type":"quantitative","scale":{"domain":[-13.5,13.5],"nice":false},"axis":null}}},
{"width":441,"height":111,"data":{"name":"p1"},"resolve":{"axis":{"x":"independent"}},"layer":[
{"transform":[{"filter":"datum.c==='E'"}],"mark":{"type":"line","color":"#111","strokeWidth":3,"interpolate":"monotone"},"encoding":{"x":{"field":"v","type":"quantitative","scale":{"domain":[-10.67,10.43],"nice":false,"zero":false},"axis":{"orient":"bottom","values":[-10,-9,-8,-7,-6,-5,-4,-3,-2,-1,0,1,2,3,4,5,6,7,8,9,10],"tickSize":{"condition":{"test":"datum.value % 2 === 0","value":-7},"value":-4},"labels":false,"title":null}},"y":{"field":"y","type":"quantitative","scale":{"domain":[-97.5,13.5],"nice":false,"zero":false},"axis":null}}},
{"transform":[{"filter":"datum.c!=='E'"}],"mark":{"type":"line","strokeWidth":1.6,"interpolate":"monotone"},"encoding":{"x":{"field":"v","type":"quantitative","scale":{"domain":[-10.67,10.43],"nice":false,"zero":false},"axis":{"orient":"top","values":[-10,-9,-8,-7,-6,-5,-4,-3,-2,-1,0,1,2,3,4,5,6,7,8,9,10],"tickSize":{"condition":{"test":"datum.value % 2 === 0","value":-7},"value":-4},"labels":false,"title":null}},"y":{"field":"y","type":"quantitative","scale":{"domain":[-97.5,13.5],"nice":false,"zero":false},"axis":null},"color":{"field":"c","type":"nominal","scale":{"domain":["S1","S2","S3","S4"],"range":["#e00000","#22cc22","#1a1ab8","#33dddd"]},"legend":null}}},
{"data":{"name":"l1"},"mark":{"type":"rule","color":"#222","strokeWidth":0.8},"encoding":{"x":{"field":"x1","type":"quantitative","axis":null},"y":{"field":"y1","type":"quantitative","axis":null},"x2":{"field":"x2"},"y2":{"field":"y2"}}},
{"data":{"name":"l1"},"mark":{"type":"text","font":"Liberation Serif","fontSize":11,"color":"#222"},"encoding":{"x":{"field":"v","type":"quantitative","axis":null},"y":{"field":"y","type":"quantitative","axis":null},"text":{"field":"t"}}},
{"data":{"values":[{"t":"x=0.25","v":-8.86,"y":-76.5}]},"mark":{"type":"text","font":"Liberation Sans","fontSize":19,"fontWeight":"bold","color":"#111"},"encoding":{"x":{"field":"v","type":"quantitative","axis":null},"y":{"field":"y","type":"quantitative","axis":null},"text":{"field":"t"}}}
]},
{"width":441,"height":29,"data":{"name":"res"},"mark":{"type":"line","color":"#111","strokeWidth":0.9},"encoding":{"x":{"field":"v","type":"quantitative","scale":{"domain":[-10.67,10.43],"nice":false},"axis":null},"y":{"field":"c","type":"quantitative","scale":{"domain":[-14.5,14.5],"nice":false},"axis":null}}},
{"width":441,"height":109,"data":{"name":"p2"},"resolve":{"axis":{"x":"independent"}},"layer":[
{"transform":[{"filter":"datum.c==='E'"}],"mark":{"type":"line","color":"#111","strokeWidth":3,"interpolate":"monotone"},"encoding":{"x":{"field":"v","type":"quantitative","scale":{"domain":[-10.67,10.43],"nice":false,"zero":false},"axis":{"orient":"bottom","values":[-10,-9,-8,-7,-6,-5,-4,-3,-2,-1,0,1,2,3,4,5,6,7,8,9,10],"tickSize":{"condition":{"test":"datum.value % 2 === 0","value":-7},"value":-4},"labels":false,"title":null}},"y":{"field":"y","type":"quantitative","scale":{"domain":[-86.3,22.7],"nice":false,"zero":false},"axis":null}}},
{"transform":[{"filter":"datum.c!=='E'"}],"mark":{"type":"line","strokeWidth":1.4,"interpolate":"monotone"},"encoding":{"x":{"field":"v","type":"quantitative","scale":{"domain":[-10.67,10.43],"nice":false,"zero":false},"axis":{"orient":"top","values":[-10,-9,-8,-7,-6,-5,-4,-3,-2,-1,0,1,2,3,4,5,6,7,8,9,10],"tickSize":{"condition":{"test":"datum.value % 2 === 0","value":-7},"value":-4},"labels":false,"title":null}},"y":{"field":"y","type":"quantitative","scale":{"domain":[-86.3,22.7],"nice":false,"zero":false},"axis":null},"color":{"field":"c","type":"nominal","scale":{"domain":["S3","S2","S1","D"],"range":["#66dddd","#3a3ab8","#33bb33","#e00000"]},"legend":null}}},
{"data":{"name":"l2"},"mark":{"type":"rule","color":"#222","strokeWidth":0.8},"encoding":{"x":{"field":"x1","type":"quantitative","axis":null},"y":{"field":"y1","type":"quantitative","axis":null},"x2":{"field":"x2"},"y2":{"field":"y2"}}},
{"data":{"name":"l2"},"mark":{"type":"text","font":"Liberation Serif","fontSize":11,"color":"#222"},"encoding":{"x":{"field":"v","type":"quantitative","axis":null},"y":{"field":"y","type":"quantitative","axis":null},"text":{"field":"t"}}},
{"data":{"values":[{"t":"x=0.5","v":-8.7,"y":-67.3}]},"mark":{"type":"text","font":"Liberation Sans","fontSize":19,"fontWeight":"bold","color":"#111"},"encoding":{"x":{"field":"v","type":"quantitative","axis":null},"y":{"field":"y","type":"quantitative","axis":null},"text":{"field":"t"}}}
]},
{"width":441,"height":27,"data":{"name":"res"},"mark":{"type":"line","color":"#111","strokeWidth":0.9},"encoding":{"x":{"field":"v","type":"quantitative","scale":{"domain":[-10.67,10.43],"nice":false},"axis":null},"y":{"field":"d","type":"quantitative","scale":{"domain":[-13.5,13.5],"nice":false},"axis":null}}},
{"width":441,"height":110,"data":{"name":"p3"},"resolve":{"axis":{"x":"independent"}},"layer":[
{"transform":[{"filter":"datum.c==='E'"}],"mark":{"type":"line","color":"#111","strokeWidth":3,"interpolate":"monotone"},"encoding":{"x":{"field":"v","type":"quantitative","scale":{"domain":[-10.67,10.43],"nice":false,"zero":false},"axis":{"orient":"bottom","values":[-10,-9,-8,-7,-6,-5,-4,-3,-2,-1,0,1,2,3,4,5,6,7,8,9,10],"tickSize":{"condition":{"test":"datum.value % 2 === 0","value":-7},"value":-4},"labels":false,"title":null}},"y":{"field":"y","type":"quantitative","scale":{"domain":[-89.5,20.5],"nice":false,"zero":false},"axis":{"orient":"right","values":[6.5,-20.5,-48.5,-76.5],"tickSize":-5,"labels":false,"title":null}}}},
{"transform":[{"filter":"datum.c!=='E'"}],"mark":{"type":"line","strokeWidth":2,"interpolate":"monotone"},"encoding":{"x":{"field":"v","type":"quantitative","scale":{"domain":[-10.67,10.43],"nice":false,"zero":false},"axis":{"orient":"top","values":[-10,-9,-8,-7,-6,-5,-4,-3,-2,-1,0,1,2,3,4,5,6,7,8,9,10],"tickSize":{"condition":{"test":"datum.value % 2 === 0","value":-7},"value":-4},"labels":false,"title":null}},"y":{"field":"y","type":"quantitative","scale":{"domain":[-89.5,20.5],"nice":false,"zero":false},"axis":null},"color":{"field":"c","type":"nominal","scale":{"domain":["S1","S2","D"],"range":["#8c8cd0","#33cc33","#e00000"]},"legend":null}}},
{"data":{"name":"l3"},"mark":{"type":"rule","color":"#222","strokeWidth":0.8},"encoding":{"x":{"field":"x1","type":"quantitative","axis":null},"y":{"field":"y1","type":"quantitative","axis":null},"x2":{"field":"x2"},"y2":{"field":"y2"}}},
{"data":{"name":"l3"},"mark":{"type":"text","font":"Liberation Serif","fontSize":11,"color":"#222"},"encoding":{"x":{"field":"v","type":"quantitative","axis":null},"y":{"field":"y","type":"quantitative","axis":null},"text":{"field":"t"}}},
{"data":{"values":[{"t":"x=0.75","v":-8.98,"y":-72.2}]},"mark":{"type":"text","font":"Liberation Sans","fontSize":19,"fontWeight":"bold","color":"#111"},"encoding":{"x":{"field":"v","type":"quantitative","axis":null},"y":{"field":"y","type":"quantitative","axis":null},"text":{"field":"t"}}}
]},
{"width":441,"height":28,"data":{"name":"res"},"mark":{"type":"line","color":"#111","strokeWidth":0.9},"encoding":{"x":{"field":"v","type":"quantitative","scale":{"domain":[-10.67,10.43],"nice":false},"axis":null},"y":{"field":"e","type":"quantitative","scale":{"domain":[-14,14],"nice":false},"axis":null}}},
{"width":441,"height":111,"data":{"name":"p4"},"resolve":{"axis":{"x":"independent"}},"layer":[
{"transform":[{"filter":"datum.c==='E'"}],"mark":{"type":"line","color":"#111","strokeWidth":3,"interpolate":"monotone"},"encoding":{"x":{"field":"v","type":"quantitative","scale":{"domain":[-10.67,10.43],"nice":false,"zero":false},"axis":{"orient":"bottom","values":[-10,-9,-8,-7,-6,-5,-4,-3,-2,-1,0,1,2,3,4,5,6,7,8,9,10],"tickSize":{"condition":{"test":"datum.value % 2 === 0","value":-7},"value":-4},"labelExpr":"datum.value % 2 === 0 ? datum.value : ''","labelFont":"Liberation Sans","labelFontSize":19,"labelColor":"#111","labelPadding":15,"labelOverlap":false,"labelFlush":false,"title":"Скорость источника, мм/с","titleFont":"Liberation Serif","titleFontSize":24,"titleFontWeight":"bold","titleColor":"#111","titlePadding":-1}},"y":{"field":"y","type":"quantitative","scale":{"domain":[-90.7,20.3],"nice":false,"zero":false},"axis":null}}},
{"transform":[{"filter":"datum.c!=='E'"}],"mark":{"type":"line","strokeWidth":2,"interpolate":"monotone"},"encoding":{"x":{"field":"v","type":"quantitative","scale":{"domain":[-10.67,10.43],"nice":false,"zero":false},"axis":{"orient":"top","values":[-10,-9,-8,-7,-6,-5,-4,-3,-2,-1,0,1,2,3,4,5,6,7,8,9,10],"tickSize":{"condition":{"test":"datum.value % 2 === 0","value":-7},"value":-4},"labels":false,"title":null}},"y":{"field":"y","type":"quantitative","scale":{"domain":[-90.7,20.3],"nice":false,"zero":false},"axis":null},"color":{"field":"c","type":"nominal","scale":{"domain":["S1","D2","D1"],"range":["#8c8cd0","#33cc33","#e00000"]},"legend":null}}},
{"data":{"name":"l4"},"mark":{"type":"rule","color":"#222","strokeWidth":0.8},"encoding":{"x":{"field":"x1","type":"quantitative","axis":null},"y":{"field":"y1","type":"quantitative","axis":null},"x2":{"field":"x2"},"y2":{"field":"y2"}}},
{"data":{"name":"l4"},"mark":{"type":"text","font":"Liberation Serif","fontSize":11,"color":"#222"},"encoding":{"x":{"field":"v","type":"quantitative","axis":null},"y":{"field":"y","type":"quantitative","axis":null},"text":{"field":"t"}}},
{"data":{"values":[{"t":"x=1.0","v":-9.1,"y":-72.7}]},"mark":{"type":"text","font":"Liberation Sans","fontSize":19,"fontWeight":"bold","color":"#111"},"encoding":{"x":{"field":"v","type":"quantitative","axis":null},"y":{"field":"y","type":"quantitative","axis":null},"text":{"field":"t"}}}
]}
]
}
